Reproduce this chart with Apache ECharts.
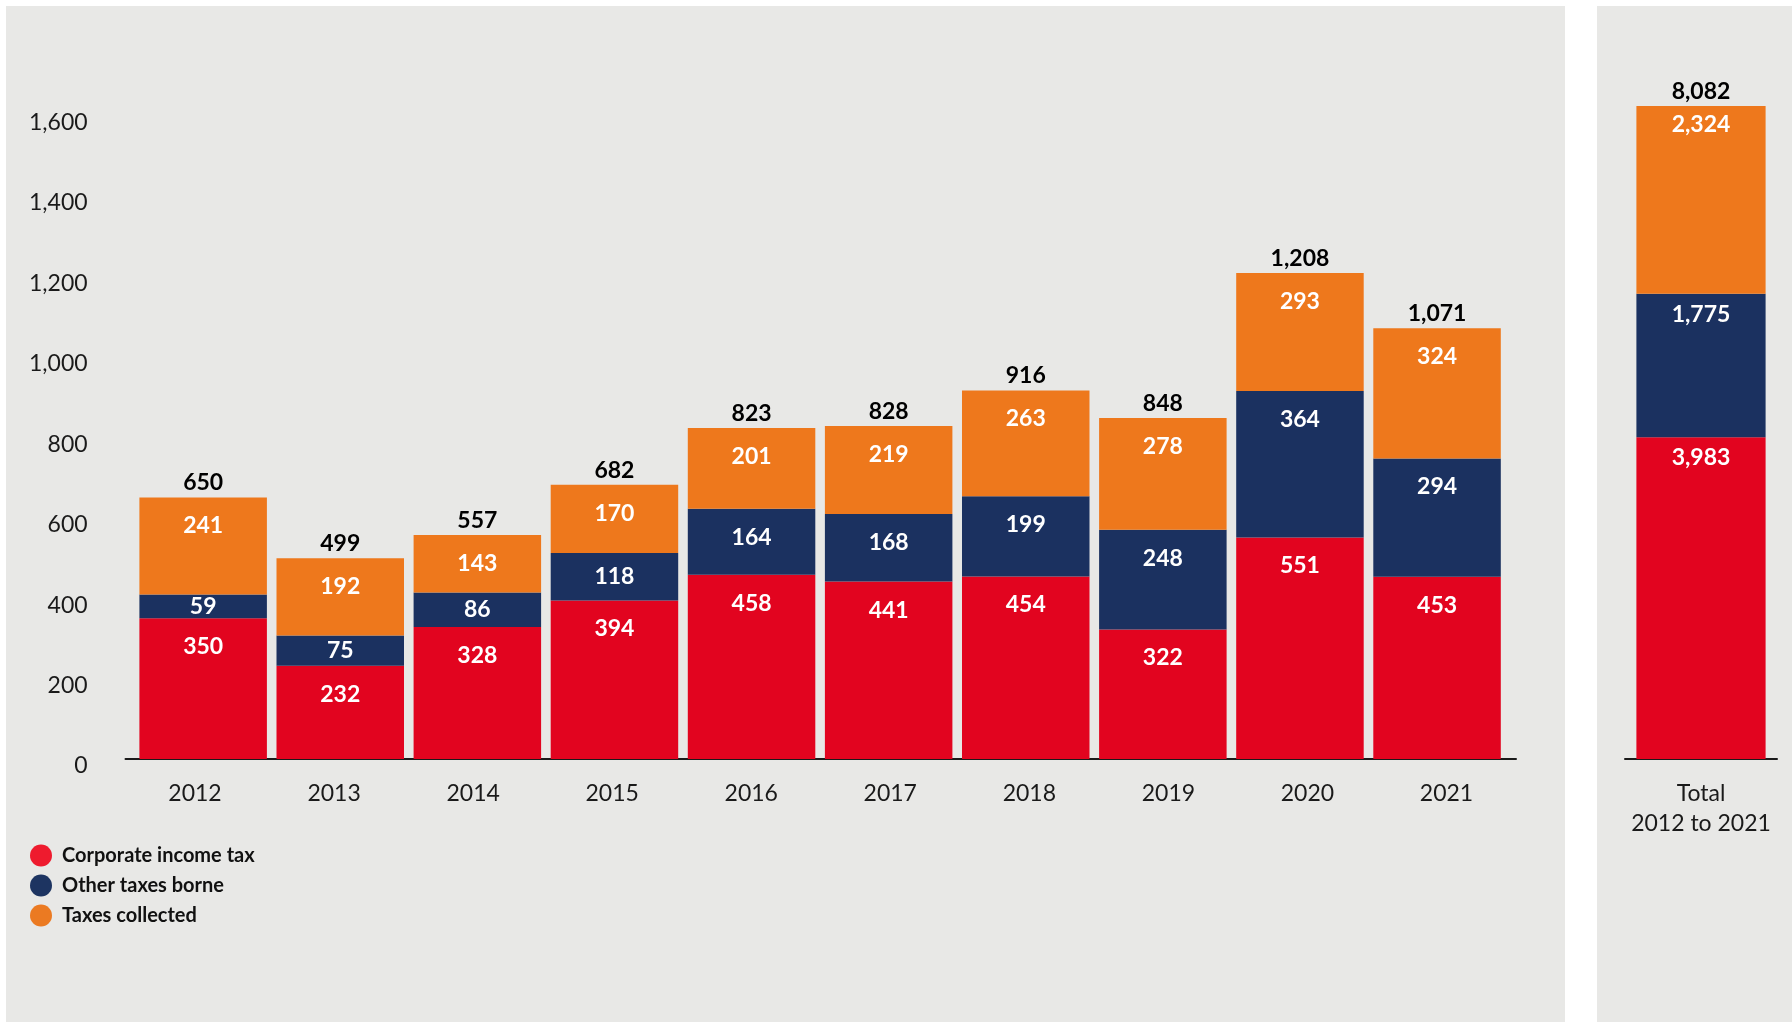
<!DOCTYPE html>
<html><head><meta charset="utf-8">
<script src="https://cdn.jsdelivr.net/npm/echarts@6/dist/echarts.min.js"></script>
<style>html,body{margin:0;padding:0;background:#fff}#c{width:1792px;height:1022px}</style>
</head><body><div id="c"></div>
<script>
// ---- data ----
const years = ['2012','2013','2014','2015','2016','2017','2018','2019','2020','2021'];
const corporateIncomeTax = [350,232,328,394,458,441,454,322,551,453];
const otherTaxesBorne    = [59,75,86,118,164,168,199,248,364,294];
const taxesCollected     = [241,192,143,170,201,219,263,278,293,324];
const totalCategory = ['Total\n2012 to 2021'];
const totalCorporateIncomeTax = [3983];
const totalOtherTaxesBorne    = [1775];
const totalTaxesCollected     = [2324];
const yAxisMax = 1800, yAxisInterval = 200;       // ticks 0..1,600
const totalAxisMax = 8960;                         // total panel drawn at ~1/5 scale
const seriesNames = ['Corporate income tax','Other taxes borne','Taxes collected'];

// ---- style ----
const FONT = 'Lato, "Noto Sans", sans-serif';
const C_RED = '#E2041F', C_NAVY = '#1B3160', C_ORANGE = '#EE781C';
const L_RED = '#EE1B2E', L_NAVY = '#1D3461', L_ORANGE = '#EB7A22';
const GRID_TOP = 35, BASE_Y = 759, H = 1022;
const fmt = v => Number(v).toLocaleString('en-US');

function segData(vals, max) {
  const px = (BASE_Y - GRID_TOP) / max;
  return vals.map(v => v * px < 52 ? {value: v, label: {position: 'inside'}} : v);
}
function segSeries(name, vals, color, xi, yi, max, dist) {
  return {
    name, type: 'bar', stack: 's' + xi, stackStrategy: 'all', xAxisIndex: xi, yAxisIndex: yi,
    barCategoryGap: xi === 0 ? '7%' : '15%',
    itemStyle: {color},
    data: segData(vals, max),
    label: {show: true, position: 'insideTop', distance: dist, color: '#fff', fontFamily: FONT,
      fontWeight: 'bold', fontSize: 23, formatter: p => fmt(p.value)}
  };
}
function topSeries(xi, yi, arrays, n) {
  return {
    name: 'sum', type: 'bar', stack: 's' + xi, stackStrategy: 'all', xAxisIndex: xi, yAxisIndex: yi,
    barCategoryGap: xi === 0 ? '7%' : '15%', silent: true,
    itemStyle: {color: 'transparent'},
    data: new Array(n).fill(0),
    label: {show: true, position: 'top', distance: 3, color: '#000', fontFamily: FONT,
      fontWeight: 'bold', fontSize: 23,
      formatter: p => fmt(arrays.reduce((s, a) => s + a[p.dataIndex], 0))}
  };
}

const chart = echarts.init(document.getElementById('c'), null, {renderer: 'canvas'});
chart.setOption({
  animation: false,
  backgroundColor: '#fff',
  graphic: [
    {type: 'rect', z: -10, shape: {x: 6, y: 6, width: 1559, height: 1016}, style: {fill: '#E8E8E6'}},
    {type: 'rect', z: -10, shape: {x: 1597, y: 6, width: 195, height: 1016}, style: {fill: '#E8E8E6'}}
  ],
  legend: {
    data: [
      {name: seriesNames[0], itemStyle: {color: L_RED}},
      {name: seriesNames[1], itemStyle: {color: L_NAVY}},
      {name: seriesNames[2], itemStyle: {color: L_ORANGE}}
    ],
    orient: 'vertical', left: 25, top: 839.5,
    icon: 'circle', itemWidth: 22, itemHeight: 22, itemGap: 8,
    textStyle: {fontFamily: FONT, fontWeight: 'bold', fontSize: 20, color: '#111', padding: [0,0,0,5]}
  },
  grid: [
    {left: 134.6, right: 1792 - 1505.6, top: GRID_TOP, bottom: H - BASE_Y},
    {left: 125.5, right: 1792 - 1516, top: GRID_TOP, bottom: H - BASE_Y},
    {left: 1625, right: 1792 - 1777, top: GRID_TOP, bottom: H - BASE_Y}
  ],
  xAxis: [
    {gridIndex: 0, type: 'category', data: years, show: false},
    {gridIndex: 1, type: 'category', data: years,
      axisLine: {lineStyle: {color: '#1a1a1a', width: 2}}, axisTick: {show: false},
      axisLabel: {margin: 23, color: '#1a1a1a', fontFamily: FONT, fontSize: 23}},
    {gridIndex: 2, type: 'category', data: totalCategory,
      axisLine: {lineStyle: {color: '#1a1a1a', width: 2}}, axisTick: {show: false},
      axisLabel: {margin: 20, color: '#1a1a1a', fontFamily: FONT, fontSize: 23, lineHeight: 30}}
  ],
  yAxis: [
    {gridIndex: 0, type: 'value', min: 0, max: yAxisMax, interval: yAxisInterval,
      axisLine: {show: false}, axisTick: {show: false}, splitLine: {show: false},
      axisLabel: {showMaxLabel: false, margin: 47, color: '#1a1a1a', fontFamily: FONT, fontSize: 23,
        verticalAlign: 'top', lineHeight: 14, formatter: v => fmt(v)}},
    {gridIndex: 1, type: 'value', min: 0, max: 1, show: false},
    {gridIndex: 2, type: 'value', min: 0, max: totalAxisMax, show: false}
  ],
  series: [
    segSeries(seriesNames[0], corporateIncomeTax, C_RED, 0, 0, yAxisMax, 17),
    segSeries(seriesNames[1], otherTaxesBorne, C_NAVY, 0, 0, yAxisMax, 17),
    segSeries(seriesNames[2], taxesCollected, C_ORANGE, 0, 0, yAxisMax, 17),
    topSeries(0, 0, [corporateIncomeTax, otherTaxesBorne, taxesCollected], years.length),
    segSeries(seriesNames[0], totalCorporateIncomeTax, C_RED, 2, 2, totalAxisMax, 9),
    segSeries(seriesNames[1], totalOtherTaxesBorne, C_NAVY, 2, 2, totalAxisMax, 9),
    segSeries(seriesNames[2], totalTaxesCollected, C_ORANGE, 2, 2, totalAxisMax, 7),
    topSeries(2, 2, [totalCorporateIncomeTax, totalOtherTaxesBorne, totalTaxesCollected], 1)
  ]
});
</script></body></html>
